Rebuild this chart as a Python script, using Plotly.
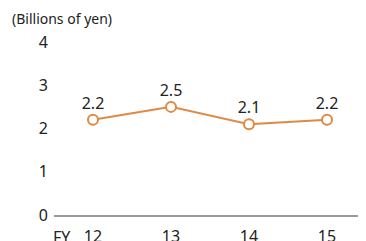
import plotly.graph_objects as go

years = [12, 13, 14, 15]
values = [2.2, 2.5, 2.1, 2.2]
labels = ["2.2", "2.5", "2.1", "2.2"]
y_ticks = [0, 1, 2, 3, 4]

color = "#DE8A45"
font_family = "'Noto Sans', 'Liberation Sans', sans-serif"

fig = go.Figure()
fig.add_trace(go.Scatter(
    x=years, y=values, mode="lines+markers+text",
    text=labels, textposition="top center",
    textfont=dict(size=16, color="#222222", family=font_family),
    line=dict(color=color, width=2),
    marker=dict(size=10, color="white", line=dict(color=color, width=2)),
    cliponaxis=False,
    hoverinfo="skip",
))

fig.update_layout(
    width=358, height=233,
    margin=dict(l=46, r=0, t=34, b=26, autoexpand=False),
    paper_bgcolor="white", plot_bgcolor="white",
    showlegend=False,
    font=dict(family=font_family, color="#222222", size=16),
    xaxis=dict(
        range=[11.5, 15.5], tickvals=years, ticktext=[str(y) for y in years],
        showgrid=False, zeroline=False, showline=True, linecolor="#999999", linewidth=2,
        ticks="", ticklabelstandoff=6, fixedrange=True, automargin=False,
    ),
    yaxis=dict(
        range=[0, 4], tickvals=y_ticks, showgrid=False, zeroline=False,
        showline=False, ticks="", ticklabelstandoff=5, fixedrange=True, automargin=False,
    ),
    annotations=[
        dict(text="(Billions of yen)", xref="paper", yref="paper",
             x=-44/312, y=1 + 24/173, xanchor="left", yanchor="middle",
             showarrow=False, font=dict(size=14, color="#222222")),
        dict(text="FY", xref="paper", yref="paper",
             x=-3/312, y=-22/173, xanchor="left", yanchor="middle",
             showarrow=False, font=dict(size=16, color="#222222")),
    ],
)

fig.write_html("out.html")
